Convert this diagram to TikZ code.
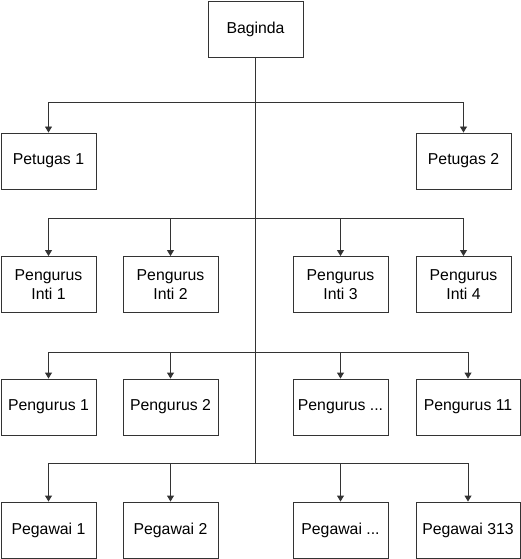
\documentclass[tikz,border=0pt]{standalone}
\usepackage{fontspec}
\setmainfont{Liberation Sans}
\usetikzlibrary{arrows.meta}
\begin{document}
\begin{tikzpicture}[x=1pt,y=-1pt,
	box/.style={draw=black!80,line width=0.9pt,minimum width=95pt,minimum height=56pt,inner sep=0pt,align=center,font=\fontsize{15.8}{19}\selectfont},
	widebox/.style={box,minimum width=104pt},
	link/.style={draw=black!80,line width=0.9pt},
	arr/.style={link,-{Triangle[width=7pt,length=6pt]}}]
	\useasboundingbox (0,0) rectangle (521,559);
	\node[box] (bag) at (255.5,29) {Baginda};
	\node[box] (pt1) at (48.5,161) {Petugas 1};
	\node[box] (pt2) at (463.5,161) {Petugas 2};
	\node[box] (pi1) at (48.5,284.5) {Pengurus\\Inti 1};
	\node[box] (pi2) at (170.5,284.5) {Pengurus\\Inti 2};
	\node[box] (pi3) at (340.5,284.5) {Pengurus\\Inti 3};
	\node[box] (pi4) at (463.5,284.5) {Pengurus\\Inti 4};
	\node[box] (pg1) at (48.5,407) {Pengurus 1};
	\node[box] (pg2) at (170.5,407) {Pengurus 2};
	\node[box] (pg3) at (340.5,407) {Pengurus ...};
	\node[widebox] (pg4) at (468,407) {Pengurus 11};
	\node[box] (pw1) at (48.5,530) {Pegawai 1};
	\node[box] (pw2) at (170.5,530) {Pegawai 2};
	\node[box] (pw3) at (340.5,530) {Pegawai ...};
	\node[widebox] (pw4) at (468,530) {Pegawai 313};
	% junctions on the trunk
	\coordinate (j1) at (255.5,102);
	\coordinate (j2) at (255.5,218);
	\coordinate (j3) at (255.5,352);
	\coordinate (j4) at (255.5,463);
	\draw[link] (bag.south) -- (j4);
	\draw[arr] (j1) -| (pt1.north);
	\draw[arr] (j1) -| (pt2.north);
	\draw[arr] (j2) -| (pi1.north);
	\draw[arr] (j2) -| (pi2.north);
	\draw[arr] (j2) -| (pi3.north);
	\draw[arr] (j2) -| (pi4.north);
	\draw[arr] (j3) -| (pg1.north);
	\draw[arr] (j3) -| (pg2.north);
	\draw[arr] (j3) -| (pg3.north);
	\draw[arr] (j3) -| (pg4.north);
	\draw[arr] (j4) -| (pw1.north);
	\draw[arr] (j4) -| (pw2.north);
	\draw[arr] (j4) -| (pw3.north);
	\draw[arr] (j4) -| (pw4.north);
\end{tikzpicture}
\end{document}
